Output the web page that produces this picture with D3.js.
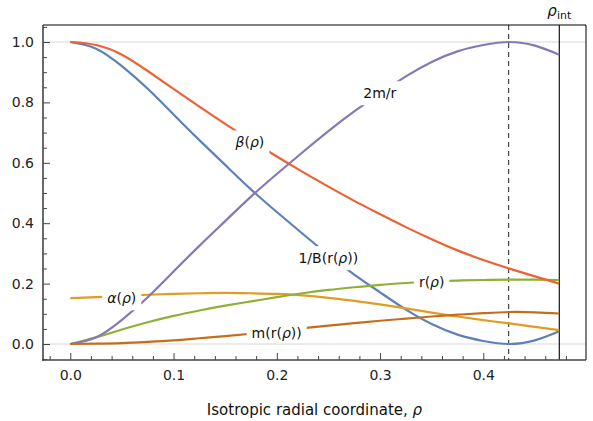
<!DOCTYPE html>
<html>
<head>
<meta charset="utf-8">
<script src="https://cdn.jsdelivr.net/npm/d3@7"></script>
<style>
  html, body { margin: 0; padding: 0; background: #fff; }
  svg { display: block; font-family: "DejaVu Sans", sans-serif; }
</style>
</head>
<body>
<svg id="chart" width="593" height="421"></svg>
<script>
// ---- data ----
const rho      = [0, 0.025, 0.05, 0.075, 0.1, 0.125, 0.15, 0.175, 0.2, 0.225, 0.25, 0.275, 0.3, 0.325, 0.35, 0.375, 0.4, 0.425, 0.45, 0.4735];
const invB     = [1.000, 0.978, 0.920, 0.845, 0.760, 0.675, 0.593, 0.512, 0.437, 0.365, 0.295, 0.230, 0.171, 0.114, 0.066, 0.031, 0.010, 0.000, 0.012, 0.042];
const alphaV   = [0.152, 0.155, 0.159, 0.163, 0.166, 0.168, 0.169, 0.168, 0.166, 0.161, 0.153, 0.143, 0.131, 0.118, 0.104, 0.091, 0.079, 0.068, 0.057, 0.046];
const rV       = [0.000, 0.022, 0.048, 0.072, 0.093, 0.111, 0.127, 0.141, 0.155, 0.168, 0.179, 0.188, 0.196, 0.202, 0.207, 0.210, 0.212, 0.213, 0.213, 0.212];
const betaV    = [1.000, 0.990, 0.958, 0.904, 0.845, 0.786, 0.729, 0.674, 0.621, 0.570, 0.521, 0.474, 0.430, 0.387, 0.347, 0.310, 0.278, 0.250, 0.224, 0.200];
const twoMr    = [0.000, 0.022, 0.080, 0.155, 0.240, 0.325, 0.407, 0.488, 0.563, 0.635, 0.705, 0.770, 0.829, 0.886, 0.934, 0.969, 0.990, 1.000, 0.988, 0.958];
const mV       = [0.000, 0.001, 0.003, 0.007, 0.012, 0.019, 0.026, 0.034, 0.043, 0.052, 0.061, 0.069, 0.077, 0.084, 0.091, 0.097, 0.102, 0.106, 0.105, 0.101];

const seriesNames  = ["1/B", "alpha", "r", "beta", "2m/r", "m"];
const seriesColors = ["#5E81B5", "#E19C24", "#8FB032", "#EB6235", "#8778B3", "#C56E1A"];
const seriesValues = [invB, alphaV, rV, betaV, twoMr, mV];

const rhoHorizon = 0.4246;   // dashed line
const rhoInt     = 0.4736;   // solid line

const xMajor = [0, 0.1, 0.2, 0.3, 0.4];
const xMinor = [-0.02, 0.02, 0.04, 0.06, 0.08, 0.12, 0.14, 0.16, 0.18, 0.22, 0.24, 0.26, 0.28, 0.32, 0.34, 0.36, 0.38, 0.42, 0.44, 0.46, 0.48];
const yMajor = [0, 0.2, 0.4, 0.6, 0.8, 1.0];
const yMinor = [-0.05, 0.05, 0.1, 0.15, 0.25, 0.3, 0.35, 0.45, 0.5, 0.55, 0.65, 0.7, 0.75, 0.85, 0.9, 0.95, 1.05];
const gridY  = [0, 1];

// curve labels: [text part, italic?], anchor in data coords
const labelParts = [
  [["1/B(r(", false], ["ρ", true], ["))", false]],
  [["α", true], ["(", false], ["ρ", true], [")", false]],
  [["r(", false], ["ρ", true], [")", false]],
  [["β", true], ["(", false], ["ρ", true], [")", false]],
  [["2m/r", false]],
  [["m(r(", false], ["ρ", true], ["))", false]]
];
const labelRho = [0.2499, 0.0498, 0.3500, 0.1740, 0.2997, 0.1999];
const labelVal = [0.284, 0.151, 0.206, 0.667, 0.830, 0.037];

// ---- drawing ----
const svg = d3.select("#chart");
const L = 43, R = 586, T = 25, B = 360;

const x = d3.scaleLinear().domain([-0.02644, 0.49947]).range([L, R]);
const y = d3.scaleLinear().domain([-0.05298, 1.05629]).range([B, T]);

svg.append("rect").attr("width", 593).attr("height", 421).attr("fill", "#fff");

// grid lines
const gridG = svg.append("g");
gridY.forEach(v => {
  gridG.append("line").attr("x1", L).attr("x2", R).attr("y1", y(v)).attr("y2", y(v))
    .attr("stroke", "#d9d9d9").attr("stroke-width", 1);
});

// vertical reference lines
svg.append("line").attr("x1", x(rhoHorizon)).attr("x2", x(rhoHorizon)).attr("y1", T).attr("y2", B)
  .attr("stroke", "#222").attr("stroke-width", 1).attr("stroke-dasharray", "5,4");
svg.append("line").attr("x1", x(rhoInt)).attr("x2", x(rhoInt)).attr("y1", T).attr("y2", B)
  .attr("stroke", "#000").attr("stroke-width", 1.1);

// curves
const line = d3.line().x(d => x(d[0])).y(d => y(d[1])).curve(d3.curveNatural);
seriesValues.forEach((vals, i) => {
  svg.append("path")
    .datum(rho.map((r, k) => [r, vals[k]]))
    .attr("fill", "none")
    .attr("stroke", seriesColors[i])
    .attr("stroke-width", 2.2)
    .attr("d", line);
});

// axes (inward ticks)
function styleAxis(g) {
  g.select(".domain").remove();
  g.selectAll(".tick line").attr("stroke", "#444").attr("stroke-width", 1);
  g.selectAll(".tick text").attr("fill", "#222").style("font-size", "14px").style("font-family", "DejaVu Sans");
}
const fmt = d3.format(".1f");
svg.append("g").attr("transform", `translate(0,${B})`)
  .call(d3.axisBottom(x).tickValues(xMinor).tickSize(-4).tickFormat(""))
  .call(styleAxis);
svg.append("g").attr("transform", `translate(0,${B})`)
  .call(d3.axisBottom(x).tickValues(xMajor).tickSize(-7).tickPadding(10).tickFormat(fmt))
  .call(styleAxis);
svg.append("g").attr("transform", `translate(${L},0)`)
  .call(d3.axisLeft(y).tickValues(yMinor).tickSize(-4).tickFormat(""))
  .call(styleAxis);
svg.append("g").attr("transform", `translate(${L},0)`)
  .call(d3.axisLeft(y).tickValues(yMajor).tickSize(-7).tickPadding(9).tickFormat(fmt))
  .call(styleAxis);

// frame
svg.append("line").attr("x1", L).attr("x2", R).attr("y1", T).attr("y2", T).attr("stroke", "#000").attr("stroke-width", 1);
svg.append("line").attr("x1", R).attr("x2", R).attr("y1", T).attr("y2", B).attr("stroke", "#000").attr("stroke-width", 1);
svg.append("line").attr("x1", L).attr("x2", L).attr("y1", T).attr("y2", B + 0.75).attr("stroke", "#444").attr("stroke-width", 1.6);
svg.append("line").attr("x1", L - 0.8).attr("x2", R).attr("y1", B).attr("y2", B).attr("stroke", "#444").attr("stroke-width", 1.6);

// curve labels with white background
const padX = 5, padY = 5;
labelParts.forEach((parts, i) => {
  const cx = x(labelRho[i]), cy = y(labelVal[i]);
  const g = svg.append("g");
  const rect = g.append("rect").attr("fill", "#fff");
  const t = g.append("text").attr("x", cx).attr("y", cy).attr("dy", "0.35em")
    .attr("text-anchor", "middle").style("font-size", "14px").attr("fill", "#111");
  parts.forEach(p => {
    t.append("tspan").text(p[0]).style("font-style", p[1] ? "italic" : "normal");
  });
  const bb = t.node().getBBox();
  const rx = bb.x - padX, ry = bb.y - padY + 1, rw = bb.width + 2 * padX, rh = bb.height + 2 * padY - 2;
  rect.attr("x", rx).attr("y", ry).attr("width", rw).attr("height", rh);
  // keep grid lines visible through label boxes
  gridY.forEach(v => {
    const gy = y(v);
    if (gy > ry && gy < ry + rh) {
      g.insert("line", "text").attr("x1", rx).attr("x2", rx + rw).attr("y1", gy).attr("y2", gy)
        .attr("stroke", "#d9d9d9").attr("stroke-width", 1);
    }
  });
});

// rho_int label
const ti = svg.append("text").attr("x", x(rhoInt)).attr("y", 16).attr("text-anchor", "middle").attr("fill", "#111");
ti.append("tspan").text("ρ").style("font-style", "italic").style("font-size", "15px");
ti.append("tspan").text("int").attr("dy", "3").style("font-size", "11px");

// x-axis title
const xt = svg.append("text").attr("x", (L + R) / 2).attr("y", 415).attr("text-anchor", "middle")
  .style("font-size", "15px").attr("fill", "#111");
xt.append("tspan").text("Isotropic radial coordinate, ");
xt.append("tspan").text("ρ").style("font-style", "italic");
</script>
</body>
</html>
